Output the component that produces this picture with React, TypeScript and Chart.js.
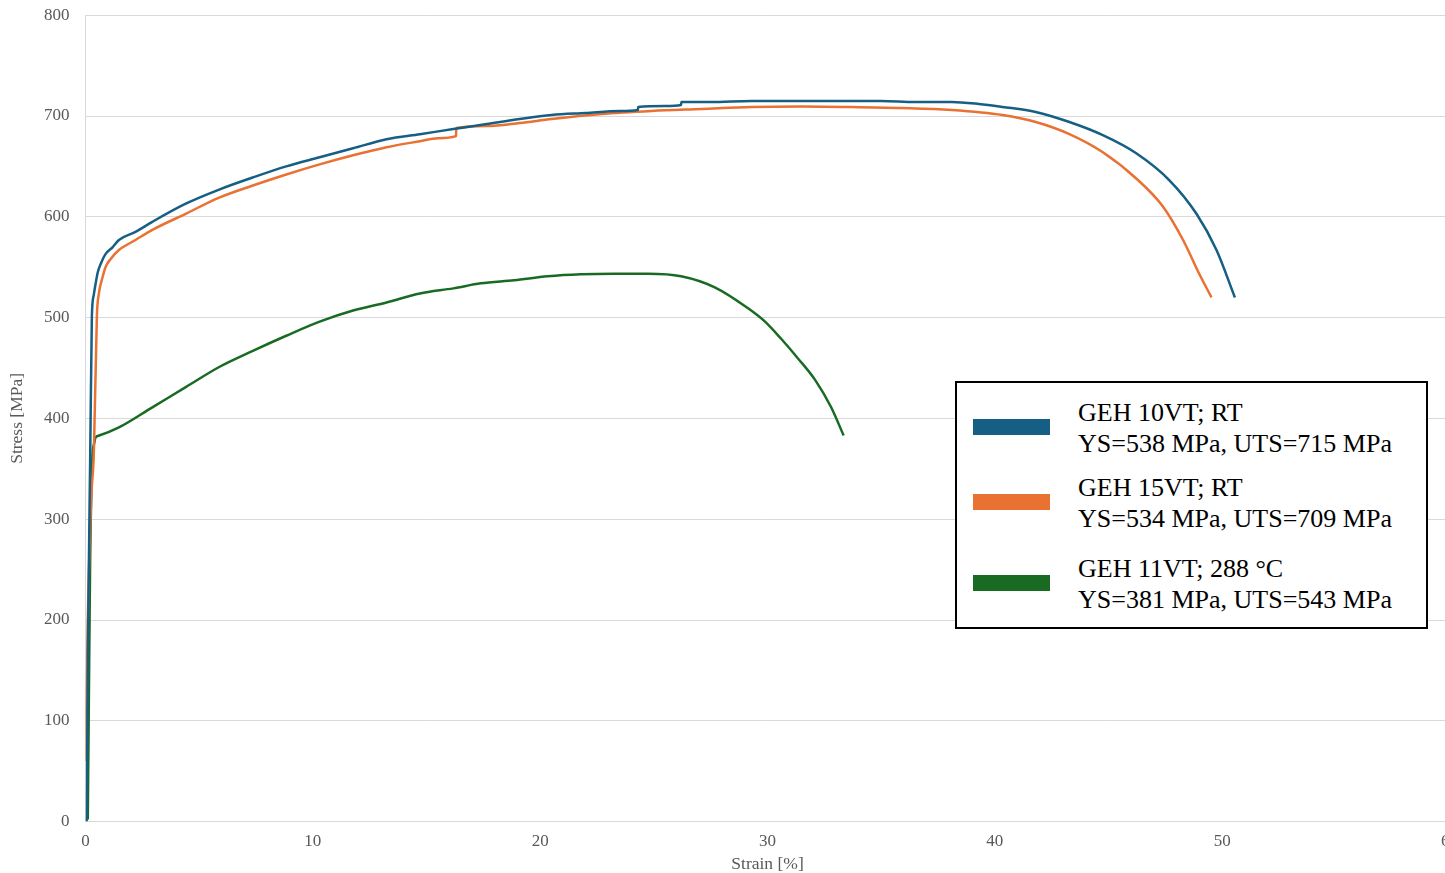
import React, { useEffect, useRef } from "react";
import { Chart, registerables } from "chart.js";

Chart.register(...registerables);

const xTicks = [0, 10, 20, 30, 40, 50, 60];
const yTicks = [0, 100, 200, 300, 400, 500, 600, 700, 800];

const blueStrain = [0.05, 0.12, 0.21, 0.28, 0.36, 0.44, 0.54, 0.7, 0.88, 1.2, 1.47, 2.2, 2.94, 4.41, 5.88, 7.36, 8.83, 10.3, 11.77, 13.24, 14.71, 16.18, 17.65, 19.1, 20.5, 22.0, 23.5, 24.3, 24.31, 25.5, 26.2, 26.21, 27.5, 29.3, 31.5, 33.7, 35.0, 36.5, 38.1, 39.3, 40.34, 41.8, 43.28, 44.75, 46.22, 47.69, 48.87, 49.75, 50.56];
const blueStress = [0, 200, 368, 501, 522, 533, 545, 555, 563, 570, 577, 585, 595, 613, 627, 639, 650, 659, 668, 677, 682, 687, 692, 697, 701, 703, 705, 706, 709, 710, 711, 714, 714, 715, 715, 715, 715, 714, 714, 712, 709, 704, 694, 681, 663, 636, 603, 567, 520];

const orangeStrain = [0, 0.1, 0.25, 0.37, 0.5, 0.59, 0.75, 0.88, 1.1, 1.47, 2.2, 2.94, 4.41, 5.88, 7.36, 8.83, 10.3, 11.77, 13.24, 14.71, 15.5, 16.3, 16.31, 17.65, 19.1, 20.5, 22.7, 24.9, 27.1, 29.3, 31.5, 33.7, 35.9, 38.1, 40.34, 41.8, 43.28, 44.75, 46.22, 47.4, 48.28, 49.0, 49.53];
const orangeStress = [60, 200, 320, 368, 501, 524, 540, 550, 558, 567, 577, 587, 603, 619, 631, 642, 652, 661, 669, 675, 678, 680, 688, 690, 693, 697, 702, 705, 707, 709, 709.5, 709, 708, 706, 701, 694, 682, 664, 638, 610, 577, 543, 520];

const greenStrain = [0.1, 0.14, 0.2, 0.3, 0.38, 0.44, 0.6, 1.47, 2.94, 4.41, 5.88, 7.36, 8.83, 10.3, 11.77, 13.24, 14.71, 16.18, 17.39, 18.86, 20.33, 21.8, 23.27, 24.74, 26.2, 27.68, 29.16, 29.89, 30.6, 31.36, 32.1, 32.8, 33.35];
const greenStress = [2, 100, 250, 360, 375, 381, 383, 391, 411, 431, 451, 467, 482, 496, 507, 515, 524, 529, 534, 537, 541, 543, 543.5, 543.5, 541, 530, 509, 496, 479, 459, 438, 411, 383];

const seriesNames = ["GEH 10VT; RT", "GEH 15VT; RT", "GEH 11VT; 288 °C"];
const seriesStats = ["YS=538 MPa, UTS=715 MPa", "YS=534 MPa, UTS=709 MPa", "YS=381 MPa, UTS=543 MPa"];
const seriesColors = ["#165f84", "#e97132", "#196b24"];

const xTitle = "Strain [%]";
const yTitle = "Stress [MPa]";

const FONT = "'Liberation Serif', 'Times New Roman', serif";

function pts(xs: number[], ys: number[]) {
  return xs.map((x, i) => ({ x, y: ys[i] }));
}

export default function App() {
  const ref = useRef<HTMLCanvasElement | null>(null);

  useEffect(() => {
    document.body.style.margin = "0";
    document.body.style.overflow = "hidden";
    const ctx = ref.current!;
    const data = [pts(blueStrain, blueStress), pts(orangeStrain, orangeStress), pts(greenStrain, greenStress)];
    const chart = new Chart(ctx, {
      type: "line",
      data: {
        datasets: data.map((d, i) => ({
          label: seriesNames[i],
          data: d,
          borderColor: seriesColors[i],
          backgroundColor: seriesColors[i],
          borderWidth: 2.5,
          pointRadius: 0,
          cubicInterpolationMode: "monotone" as const,
          fill: false,
        })),
      },
      options: {
        animation: false,
        responsive: false,
        maintainAspectRatio: false,
        layout: { padding: { left: 7, top: 0, right: 0, bottom: 0 } },
        plugins: {
          legend: { display: false },
          tooltip: { enabled: false },
        },
        scales: {
          x: {
            type: "linear",
            min: 0,
            max: 60,
            afterBuildTicks: (axis: any) => {
              axis.ticks = xTicks.map((v) => ({ value: v }));
            },
            ticks: { color: "#595959", font: { family: FONT, size: 17 }, padding: 10 },
            grid: { display: false, drawTicks: false },
            border: { display: true, color: "#d9d9d9", width: 1 },
            title: { display: true, text: xTitle, color: "#595959", font: { family: FONT, size: 17.5 }, padding: { top: -8, bottom: 0 } },
          },
          y: {
            type: "linear",
            min: 0,
            max: 800,
            afterBuildTicks: (axis: any) => {
              axis.ticks = yTicks.map((v) => ({ value: v }));
            },
            ticks: { color: "#595959", font: { family: FONT, size: 17 }, padding: 16 },
            grid: { color: "#d9d9d9", lineWidth: 1, drawTicks: false },
            border: { display: true, color: "#d9d9d9", width: 1 },
            title: { display: true, text: yTitle, color: "#595959", font: { family: FONT, size: 17.5 }, padding: { top: 0, bottom: 0 } },
          },
        },
      },
    });
    return () => chart.destroy();
  }, []);

  return (
    <div style={{ position: "relative", width: 1445, height: 873, overflow: "hidden", background: "#fff" }}>
      <canvas ref={ref} width={1468} height={886} style={{ position: "absolute", left: 0, top: -11, width: 1468, height: 886 }} />
      <div
        style={{
          position: "absolute",
          left: 955,
          top: 381,
          width: 473,
          height: 248,
          boxSizing: "border-box",
          border: "2px solid #000",
          background: "#fff",
          fontFamily: FONT,
          fontSize: 26,
          color: "#000",
        }}
      >
        {seriesNames.map((name, i) => (
          <div key={i} style={{ position: "absolute", left: 0, top: [14, 89, 170][i], width: "100%", height: 64 }}>
            <div style={{ position: "absolute", left: 16, top: 22, width: 77, height: 16, background: seriesColors[i] }} />
            <div style={{ position: "absolute", left: 121, top: 0, lineHeight: "31px", whiteSpace: "nowrap" }}>
              <div>{name}</div>
              <div>{seriesStats[i]}</div>
            </div>
          </div>
        ))}
      </div>
    </div>
  );
}
